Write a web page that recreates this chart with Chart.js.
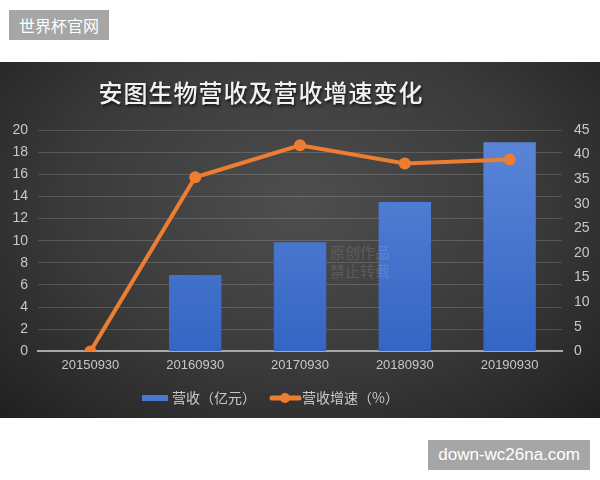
<!DOCTYPE html>
<html>
<head>
<meta charset="utf-8">
<script src="https://cdn.jsdelivr.net/npm/chart.js@4"></script>
<style>
  body { margin: 0; width: 600px; height: 480px; background: #fff; position: relative; overflow: hidden;
         font-family: "Noto Sans CJK SC", "Noto Sans", sans-serif; }
  .tag { position: absolute; background: #a6a6a6; color: #fff; font-size: 16px; line-height: 30px; padding: 0 10px; }
  #top { left: 9px; top: 10px; }
  #bottom { right: 10px; top: 440px; font-family: "Liberation Sans", sans-serif; font-size: 17px; }
  #box { position: absolute; left: 0; top: 62px; width: 600px; height: 356px;
         background: radial-gradient(ellipse at 50% 40%, #4e4e4e 0%, #3a3a3a 55%, #202020 100%); }
</style>
</head>
<body>
<div class="tag" id="top">世界杯官网</div>
<div id="box"><canvas id="chart" width="600" height="356"></canvas></div>
<div class="tag" id="bottom">down-wc26na.com</div>
<script>
const categories = ["20150930", "20160930", "20170930", "20180930", "20190930"];
const revenue = [0, 6.9, 9.85, 13.5, 18.9];
const growth = [0, 35.4, 41.9, 38.2, 39.0];

const labelColor = "#c8c8c8";
const blue = "#4a78d0";
const orange = "#ed7d31";
const cjk = "'Noto Sans CJK SC', sans-serif";
const latin = "'Liberation Sans', sans-serif";

// title, legend and faint watermark, drawn by hand (they sit left of centre in the original)
const extras = {
  id: "extras",
  afterDraw(chart) {
    const c = chart.ctx;
    c.save();
    // watermark
    c.fillStyle = "rgba(255,255,255,0.12)";
    c.font = "15px " + cjk;
    c.textBaseline = "middle";
    c.fillText("原创作品", 330, 190);
    c.fillText("禁止转载", 330, 209);

    // title
    c.shadowColor = "rgba(0,0,0,0.7)";
    c.shadowOffsetX = 1;
    c.shadowOffsetY = 2;
    c.shadowBlur = 3;
    c.fillStyle = "#f2f2f2";
    c.font = "500 24px " + cjk;
    c.letterSpacing = "1px";
    c.textAlign = "center";
    c.fillText("安图生物营收及营收增速变化", 261, 31);
    c.restore();

    // legend
    c.save();
    const y = 336;
    c.font = "14px " + cjk;
    c.textBaseline = "middle";
    c.fillStyle = blue;
    c.fillRect(142, y - 3, 26, 6);
    c.fillStyle = labelColor;
    c.fillText(chart.data.datasets[0].label, 172, y);
    c.strokeStyle = orange;
    c.lineWidth = 5;
    c.lineCap = "round";
    c.beginPath();
    c.moveTo(272, y);
    c.lineTo(299, y);
    c.stroke();
    c.fillStyle = orange;
    c.beginPath();
    c.arc(285, y, 5, 0, Math.PI * 2);
    c.fill();
    c.fillStyle = labelColor;
    c.fillText(chart.data.datasets[1].label, 302, y);
    c.restore();
  }
};

const ctx = document.getElementById("chart").getContext("2d");
new Chart(ctx, {
  data: {
    labels: categories,
    datasets: [{
      type: "bar",
      label: "营收（亿元）",
      data: revenue,
      yAxisID: "y",
      order: 2,
      barPercentage: 0.5,
      categoryPercentage: 1,
      backgroundColor: function (c) {
        const area = c.chart.chartArea;
        if (!area) return blue;
        const g = c.chart.ctx.createLinearGradient(0, area.top, 0, area.bottom);
        g.addColorStop(0, "#5b87d8");
        g.addColorStop(1, "#3565c4");
        return g;
      }
    }, {
      type: "line",
      label: "营收增速（%）",
      data: growth,
      yAxisID: "y1",
      order: 1,
      borderColor: orange,
      backgroundColor: orange,
      borderWidth: 4,
      pointRadius: 6,
      pointBackgroundColor: orange,
      pointBorderWidth: 0
    }]
  },
  plugins: [extras],
  options: {
    responsive: false,
    animation: false,
    layout: { padding: { left: 12, right: 10, top: 68, bottom: 39 } },
    plugins: {
      title: { display: false },
      legend: { display: false },
      tooltip: { enabled: false }
    },
    scales: {
      x: {
        grid: { display: false, drawTicks: false },
        border: { color: "#a8a8a8", width: 2 },
        ticks: { color: labelColor, padding: 6, font: { family: latin, size: 13 } }
      },
      y: {
        position: "left",
        min: 0, max: 20,
        afterFit: s => { s.width = 26; },
        ticks: { stepSize: 2, autoSkip: false, color: labelColor, padding: 10, font: { family: latin, size: 14 } },
        grid: { color: "rgba(200,200,200,0.22)", drawTicks: false },
        border: { display: false }
      },
      y1: {
        position: "right",
        min: 0, max: 45,
        afterFit: s => { s.width = 28; },
        ticks: { stepSize: 5, autoSkip: false, color: labelColor, padding: 12, font: { family: latin, size: 14 } },
        grid: { display: false, drawTicks: false },
        border: { display: false }
      }
    }
  }
});
</script>
</body>
</html>
